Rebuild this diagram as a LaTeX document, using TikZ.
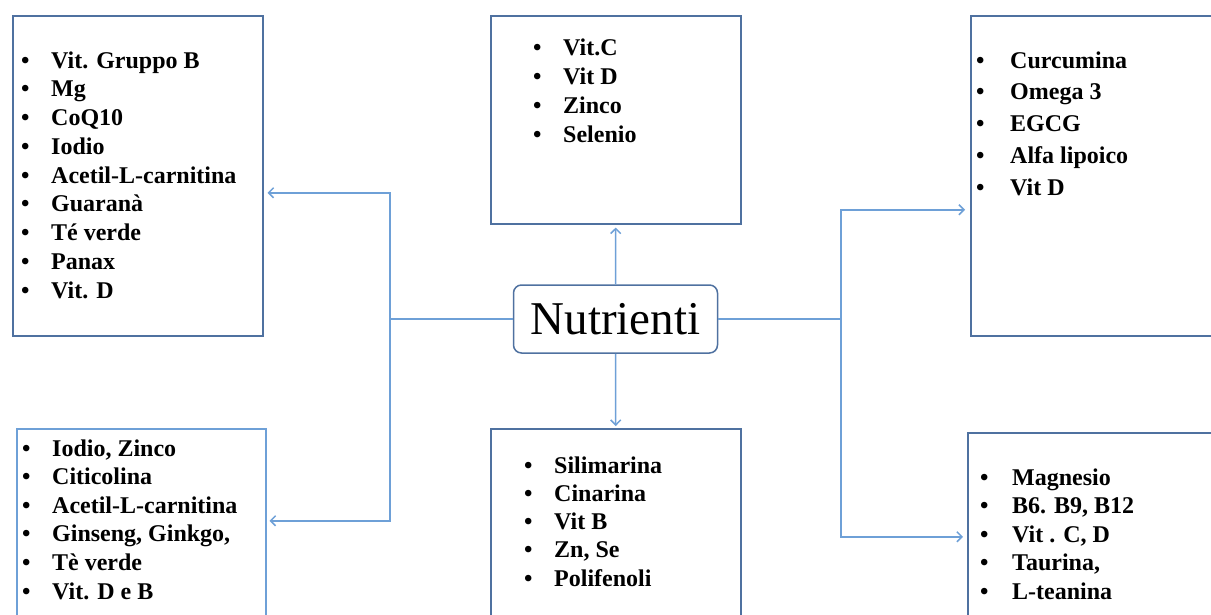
\documentclass[tikz,border=0pt]{standalone}
\usepackage{fontspec}
\setmainfont{Liberation Serif}
\usetikzlibrary{arrows.meta}

\definecolor{boxblue}{RGB}{79,113,160}
\definecolor{lineblue}{RGB}{110,160,215}
\newcommand{\punto}{\makebox[30pt][l]{\textbullet}}

\tikzset{
  box/.style={draw=boxblue, line width=1.5pt, anchor=north west, inner sep=0pt},
  voce/.style={anchor=base west, inner sep=0pt, font=\bfseries\fontsize{24}{29}\selectfont},
  conn/.style={draw=lineblue, line width=1.5pt},
  freccia/.style={conn, -{Straight Barb[length=5pt,width=10pt]}},
}

\begin{document}
\begin{tikzpicture}[x=1pt,y=-1pt]
		\useasboundingbox (0,0) rectangle (1211,614);
		\clip (0,0) rectangle (1211,614);
		
		% Central node
		\node[draw=boxblue, line width=1.5pt, rounded corners=8pt, minimum width=204pt, minimum height=68pt,
		      font=\fontsize{47}{50}\selectfont] (nut) at (615.5,319) {Nutrienti};
		
		% The six boxes
		\node[box, minimum width=250pt, minimum height=320pt] (boxtl) at (12,15) {};
		\node[box, draw=lineblue, minimum width=249pt, minimum height=200pt] (boxbl) at (16,428) {};
		\node[box, minimum width=250pt, minimum height=208pt] (boxtc) at (490,15) {};
		\node[box, minimum width=250pt, minimum height=200pt] (boxbc) at (490,428) {};
		\node[box, minimum width=260pt, minimum height=320pt] (boxtr) at (970,15) {};
		\node[box, minimum width=260pt, minimum height=200pt] (boxbr) at (967,432) {};
		
		% Lists
		\foreach \testo [count=\i] in {Vit. Gruppo B, Mg, CoQ10, Iodio, Acetil-L-carnitina, Guaranà, Té verde, Panax, Vit. D}
		\node[voce] (tl\i) at (21, {68+28.75*(\i-1)}) {\punto\testo};
		
		\foreach \testo [count=\i] in {{Iodio, Zinco}, Citicolina, Acetil-L-carnitina, {Ginseng, Ginkgo,}, Tè verde, Vit. D e B}
		\node[voce] (bl\i) at (22, {456+28.6*(\i-1)}) {\punto\testo};
		
		\foreach \testo [count=\i] in {Vit.C, Vit D, Zinco, Selenio}
		\node[voce] (tc\i) at (533, {55+29.3*(\i-1)}) {\punto\testo};
		
		\foreach \testo [count=\i] in {Silimarina, Cinarina, Vit B, {Zn, Se}, Polifenoli}
		\node[voce] (bc\i) at (524, {473+28.3*(\i-1)}) {\punto\testo};
		
		\foreach \testo [count=\i] in {Curcumina, Omega 3, EGCG, Alfa lipoico, Vit D}
		\node[voce] (tr\i) at (976, {68+31.8*(\i-1)}) {\makebox[34pt][l]{\textbullet}\testo};
		
		\foreach \testo [count=\i] in {Magnesio, {B6. B9, B12}, {Vit . C, D}, {Taurina,}, L-teanina}
		\node[voce] (br\i) at (980, {485+28.5*(\i-1)}) {\makebox[32pt][l]{\textbullet}\testo};
		
		% Connectors
		\coordinate (sx) at (390,319);
		\coordinate (dx) at (841,319);
		\draw[conn] (nut.west) -- (sx);
		\draw[freccia] (sx) |- ([xshift=4pt,yshift=-17pt]boxtl.east);
		\draw[freccia] (sx) |- ([xshift=3pt,yshift=8pt]boxbl.east);
		\draw[freccia] (nut.north) -- ([yshift=-3pt]boxtc.south);
		\draw[freccia] (nut.south) -- ([yshift=2pt]boxbc.north);
		\draw[conn] (nut.east) -- (dx);
		\draw[freccia] (dx) |- ([xshift=-5pt,yshift=-34pt]boxtr.west);
		\draw[freccia] (dx) |- ([xshift=-4pt,yshift=-4pt]boxbr.west);
		
	\end{tikzpicture}
\end{document}
